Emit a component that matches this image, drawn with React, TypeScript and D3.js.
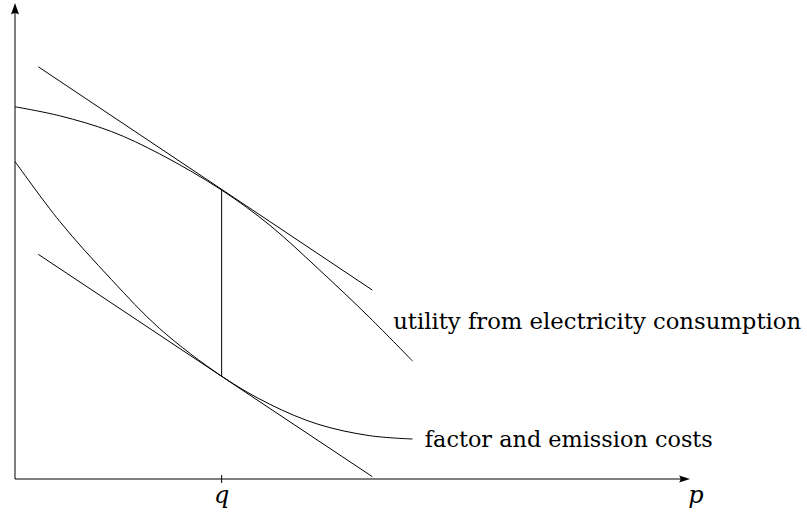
import React from 'react';
import * as d3 from 'd3';

// points, x in units of the p axis, y in units of the vertical axis
const utilityX = [0, 0.65, 1.4, 2.1, 3.0, 3.7, 4.4, 5.15, 5.77];
const utilityY = [7.82, 7.63, 7.3, 6.83, 6.07, 5.33, 4.42, 3.39, 2.48];

const costX = [0, 0.65, 1.4, 2.1, 3.0, 3.7, 4.4, 5.15, 5.77];
const costY = [6.67, 5.41, 4.19, 3.16, 2.16, 1.57, 1.15, 0.91, 0.84];

// tangent lines at q
const upperTangent: [number, number][] = [[0.338, 8.66], [5.187, 3.97]];
const lowerTangent: [number, number][] = [[0.338, 4.72], [5.187, 0.05]];

const q = 3.0;
const xTicks = [{ value: 3.0, label: 'q' }];
const axisLabels = { x: 'p' };
const curveLabels = [
  { text: 'utility from electricity consumption', x: 5.49, y: 3.15, len: 408 },
  { text: 'factor and emission costs', x: 5.95, y: 0.67, len: 288 },
];

const width = 807;
const height = 513;

const App = () => {
  const x = d3.scaleLinear().domain([0, 9.8]).range([15, 690]);
  const y = d3.scaleLinear().domain([0, 10]).range([479, 3]);

  const line = d3.line<[number, number]>()
    .x(d => x(d[0]))
    .y(d => y(d[1]))
    .curve(d3.curveCatmullRom.alpha(0.5));
  const straight = d3.line<[number, number]>().x(d => x(d[0])).y(d => y(d[1]));

  const utility = utilityX.map((v, i) => [v, utilityY[i]] as [number, number]);
  const cost = costX.map((v, i) => [v, costY[i]] as [number, number]);

  const x0 = x(0);
  const y0 = y(0);
  const xEnd = x(9.8);
  const yEnd = y(10);

  const font = "DejaVu Serif";

  return (
    <svg width={width} height={height} style={{ position: 'absolute', left: 0, top: 0, background: '#fff' }}>
      {/* axes */}
      <line x1={x0} y1={y0} x2={xEnd - 6} y2={y0} stroke="#000" strokeWidth={1} />
      <line x1={x0} y1={y0} x2={x0} y2={yEnd + 6} stroke="#000" strokeWidth={1} />
      <path d={`M${xEnd},${y0} L${xEnd - 11},${y0 - 3.5} Q${xEnd - 8},${y0} ${xEnd - 11},${y0 + 3.5} Z`} fill="#000" />
      <path d={`M${x0},${yEnd} L${x0 - 4},${yEnd + 11.5} Q${x0},${yEnd + 8.5} ${x0 + 4},${yEnd + 11.5} Z`} fill="#000" />

      {xTicks.map(t => (
        <g key={t.label}>
          <line x1={x(t.value)} x2={x(t.value)} y1={y0 - 4} y2={y0 + 4} stroke="#000" strokeWidth={1} />
          <text x={x(t.value)} y={503} textAnchor="middle" style={{ fontFamily: font, fontStyle: 'italic', fontSize: 24 }}>{t.label}</text>
        </g>
      ))}
      <text x={696} y={503} textAnchor="middle" style={{ fontFamily: font, fontStyle: 'italic', fontSize: 24 }}>{axisLabels.x}</text>

      {/* curves */}
      <path d={line(utility) || ''} fill="none" stroke="#000" strokeWidth={1} />
      <path d={line(cost) || ''} fill="none" stroke="#000" strokeWidth={1} />
      <path d={straight(upperTangent) || ''} fill="none" stroke="#000" strokeWidth={1} />
      <path d={straight(lowerTangent) || ''} fill="none" stroke="#000" strokeWidth={1} />
      <line x1={x(q)} x2={x(q)} y1={y(utilityY[4])} y2={y(costY[4])} stroke="#000" strokeWidth={1} />

      {curveLabels.map(l => (
        <text key={l.text} x={x(l.x)} y={y(l.y)} textLength={l.len} lengthAdjust="spacingAndGlyphs"
          style={{ fontFamily: font, fontSize: 23 }}>{l.text}</text>
      ))}
    </svg>
  );
};

export default App;
